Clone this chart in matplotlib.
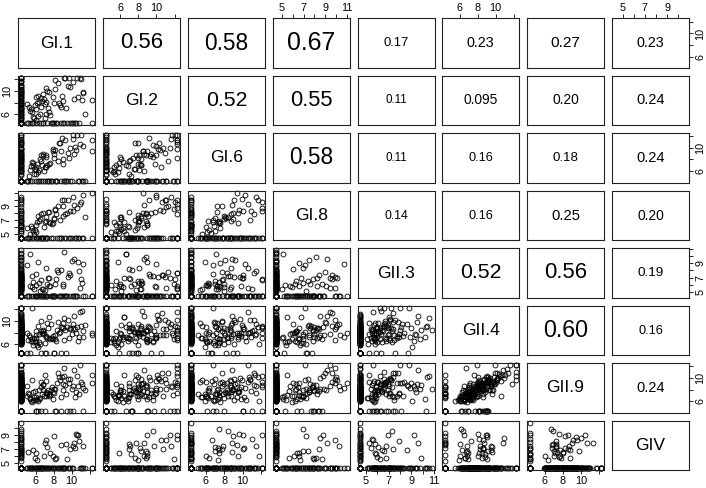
import matplotlib
matplotlib.use("Agg")
import matplotlib.pyplot as plt

plt.rcParams['font.family'] = ['Liberation Sans', 'DejaVu Sans']

# variable names (diagonal labels)
names = ["GI.1", "GI.2", "GI.6", "GI.8", "GII.3", "GII.4", "GII.9", "GIV"]

# log titres per sample; the lowest value in each list is the "not detected" floor
gi1 = (
    [8.2, 9.0, 10.1, 7.5, 8.7, 9.6, 10.6, 11.2, 7.9, 8.5, 9.3, 10.3, 6.8, 11.0, 8.0, 9.8, 12.3, 7.2, 8.9, 10.9]
    + [5.5, 5.8, 6.2, 6.0, 5.3, 6.5, 6.9, 5.6, 7.2, 6.3, 5.9, 6.7, 7.0, 5.4, 6.6, 7.6, 6.1, 7.4, 5.7, 6.4]
    + [5.2, 6.0, 6.8, 7.3, 7.8, 8.4, 8.8, 9.1, 9.5, 10.0, 10.5, 5.6, 6.4, 7.0, 7.7, 8.3, 9.8, 10.8, 11.3, 5.0]
    + [4.4] * 20 + [4.4] * 30 + [4.4] * 20
    + [4.4] * 10 + [6.6] + [4.4] * 19
    + [4.4] * 30
    + [5.1, 5.7, 6.3, 6.8, 7.1, 7.5, 7.9, 8.2, 8.6, 9.0, 9.4, 9.7, 10.2, 10.7, 11.5, 12.3, 5.4, 6.1, 6.6, 7.3,
       8.0, 8.8, 9.2, 10.4, 11.1]
)
gi2 = (
    [10.4, 8.3, 11.6, 9.8, 7.6, 10.9, 12.3, 9.9, 8.9, 11.3, 12.3, 8.6, 9.4, 12.0, 7.9, 10.7, 8.5, 8.1, 9.2, 12.3]
    + [6.8, 5.4, 7.9, 5.0, 7.2, 6.1, 8.6, 6.3, 6.0, 5.7, 7.6, 8.3, 5.3, 6.6, 8.8, 5.9, 6.9, 7.0, 5.5, 8.1]
    + [4.4, 4.4, 4.4, 4.4, 4.4, 4.4, 4.4, 4.4, 4.4, 4.4, 4.4, 4.4, 4.4, 7.7, 4.4, 4.4, 4.4, 4.4, 9.7, 4.4]
    + [6.3, 7.5, 8.8, 9.9, 10.7, 11.5, 5.7, 12.3, 6.8, 8.2, 4.4, 4.4, 4.4, 4.4, 4.4, 4.4, 9.4, 7.2, 4.4, 4.4]
    + [4.4] * 30
    + [5.3, 6.0, 7.0, 7.9, 8.5, 9.2, 10.3, 11.0, 11.8, 6.6, 8.0, 9.6, 10.1, 12.3, 5.0, 4.4, 4.4, 4.4, 4.4, 4.4]
    + [4.4] * 10 + [7.3] + [4.4] * 19
    + [5.2, 6.1, 7.4, 8.3, 9.0, 10.2, 11.1, 12.3, 5.8, 6.9, 7.7, 8.8, 9.6, 10.6, 11.7, 4.4, 4.4, 4.4, 4.4, 4.4,
       6.4, 7.1, 8.0, 9.3, 10.0, 4.4, 4.4, 5.5, 12.3, 4.4]
    + [7.8, 4.4, 9.1, 4.4, 10.5, 6.4, 4.4, 11.9, 8.0, 4.4, 7.0, 12.3, 4.4, 9.0, 6.1, 4.4, 4.4, 8.9, 4.4, 10.0,
       4.4, 7.3, 12.3, 4.4, 8.4]
)
gi6 = (
    [9.6, 8.0, 11.4, 7.2, 10.8, 9.1, 12.1, 10.3, 9.5, 7.8, 11.2, 8.9, 9.0, 12.1, 8.2, 10.0, 9.4, 8.7, 11.7, 10.6]
    + [6.9, 5.6, 7.3, 6.2, 5.2, 8.0, 6.0, 7.6, 8.4, 5.9, 6.4, 7.1, 6.8, 4.4, 8.8, 7.4, 5.5, 4.4, 7.0, 6.3]
    + [4.4, 6.8, 4.4, 7.0, 4.4, 4.4, 9.4, 4.4, 4.4, 4.4, 9.6, 4.4, 4.4, 4.4, 4.4, 4.4, 4.4, 4.4, 4.4, 4.4]
    + [4.4, 6.4, 4.4, 8.7, 4.4, 10.0, 4.4, 11.2, 4.4, 7.3, 6.9, 8.1, 9.1, 10.6, 4.4, 4.4, 4.4, 4.4, 5.6, 12.1]
    + [4.4] * 30
    + [6.0, 4.4, 7.8, 4.4, 9.5, 4.4, 10.8, 4.4, 4.4, 7.1, 4.4, 8.4, 4.4, 9.8, 4.4, 7.6, 8.9, 11.4, 6.2, 9.9]
    + [4.4] * 30
    + [5.9, 4.4, 8.3, 7.0, 4.4, 9.7, 4.4, 11.0, 6.6, 4.4, 8.8, 4.4, 10.4, 4.4, 12.1, 6.1, 7.5, 9.2, 10.9, 8.0,
       4.4, 7.9, 4.4, 8.6, 4.4, 5.4, 11.8, 4.4, 4.4, 6.8]
    + [4.4, 7.4, 4.4, 8.6, 6.7, 4.4, 9.8, 4.4, 10.7, 7.2, 4.4, 8.3, 12.1, 4.4, 4.4, 11.3, 6.3, 4.4, 7.8, 4.4,
       9.0, 4.4, 4.4, 10.1, 4.4]
)
gi8 = (
    [8.5, 7.6, 10.3, 8.2, 7.1, 9.9, 8.8, 10.7, 6.6, 9.0, 7.9, 9.2, 8.0, 9.6, 7.3, 8.4, 11.0, 6.9, 10.0, 9.4]
    + [6.2, 5.0, 6.7, 5.3, 4.4, 7.2, 6.1, 5.9, 7.5, 4.4, 5.6, 4.4, 6.8, 5.1, 7.9, 6.6, 4.4, 8.2, 5.4, 6.9]
    + [4.4, 4.4, 4.4, 4.4, 6.5, 4.4, 4.4, 4.4, 8.0, 4.4, 4.4, 4.4, 4.4, 4.4, 4.4, 7.9, 4.4, 4.4, 4.4, 4.4]
    + [4.4, 4.4, 6.9, 4.4, 4.4, 4.4, 5.5, 4.4, 4.4, 4.4, 4.4, 7.5, 4.4, 4.4, 8.5, 9.4, 4.4, 4.4, 4.4, 4.4]
    + [4.4] * 30
    + [4.4, 6.2, 4.4, 4.4, 8.0, 4.4, 4.4, 9.9, 4.4, 4.4, 6.3, 4.4, 4.4, 4.4, 4.4, 6.6, 4.4, 4.4, 4.4, 10.1]
    + [4.4] * 30
    + [4.4, 5.7, 4.4, 7.4, 6.4, 4.4, 8.9, 4.4, 5.2, 6.0, 4.4, 8.1, 4.4, 9.6, 4.4, 4.4, 6.9, 4.4, 8.4, 4.4,
       5.5, 4.4, 7.8, 4.4, 10.4, 4.4, 4.4, 6.3, 4.4, 7.1]
    + [5.9, 4.4, 7.7, 4.4, 4.4, 6.8, 4.4, 8.7, 4.4, 9.1, 4.4, 4.4, 8.3, 4.4, 7.5, 4.4, 4.4, 6.4, 4.4, 4.4,
       7.2, 4.4, 9.9, 4.4, 4.4]
)
gii3 = (
    [4.5, 6.2, 4.5, 5.8, 4.5, 7.1, 4.5, 8.9, 4.5, 7.8, 4.5, 9.6, 4.5, 6.8, 4.5, 7.4, 4.5, 8.3, 4.5, 5.6]
    + [4.5, 5.4, 4.5, 6.0, 4.5, 5.2, 4.5, 5.7, 4.5, 9.1, 4.5, 5.5, 4.5, 10.2, 4.5, 5.8, 4.5, 6.9, 4.5, 6.3]
    + [4.5, 7.5, 4.5, 6.1, 4.5, 8.0, 4.5, 10.6, 4.5, 9.3, 4.5, 7.2, 4.5, 5.3, 4.5, 6.8, 4.5, 7.9, 4.5, 8.7]
    + [4.5, 6.2, 4.5, 5.7, 4.5, 6.9, 4.5, 7.6, 4.5, 5.4, 4.5, 9.4, 4.5, 8.4, 4.5, 7.0, 4.5, 5.9, 4.5, 6.7]
    + [5.5, 6.0, 4.5, 6.7, 4.5, 7.3, 4.5, 5.8, 4.5, 6.5, 4.5, 7.7, 4.5, 5.1, 4.5, 6.2, 4.5, 8.6, 4.5, 6.4,
       4.5, 7.0, 4.5, 5.3, 4.5, 9.8, 4.5, 6.0, 4.5, 10.4]
    + [4.5, 6.1, 4.5, 6.6, 4.5, 7.5, 4.5, 5.6, 4.5, 10.3, 4.5, 7.3, 4.5, 5.9, 4.5, 9.0, 4.5, 7.9, 4.5, 6.9]
    + [4.5, 4.5, 4.5, 4.5, 4.5, 4.5, 6.3, 7.6, 4.5, 4.5, 4.5, 5.8, 4.5, 6.9, 4.5, 5.7, 4.5, 6.6, 4.5, 10.8,
       4.5, 7.4, 4.5, 6.1, 4.5, 5.6, 4.5, 7.1, 4.5, 8.0]
    + [4.5, 5.9, 4.5, 6.6, 4.5, 7.1, 4.5, 5.5, 4.5, 8.2, 4.5, 9.9, 4.5, 7.4, 4.5, 6.0, 4.5, 9.5, 4.5, 5.7,
       4.5, 6.8, 4.5, 7.2, 4.5, 5.3, 4.5, 6.5, 4.5, 8.8]
    + [4.5, 6.4, 4.5, 5.5, 4.5, 7.0, 4.5, 6.2, 4.5, 5.8, 4.5, 7.7, 4.5, 9.2, 4.5, 4.5, 5.9, 4.5, 6.7, 4.5,
       4.5, 8.1, 4.5, 4.5, 6.3]
)
gii4 = (
    [7.5, 8.8, 9.5, 7.0, 8.1, 10.2, 9.0, 7.2, 6.8, 9.9, 8.4, 10.8, 7.7, 9.2, 4.4, 8.6, 7.9, 7.4, 8.9, 11.6]
    + [6.5, 7.0, 5.9, 6.3, 7.6, 6.0, 8.0, 6.8, 7.2, 5.5, 6.6, 7.9, 6.2, 7.3, 8.3, 6.9, 7.1, 8.7, 5.8, 7.8]
    + [6.7, 7.5, 8.2, 9.6, 7.0, 8.5, 4.4, 10.5, 9.0, 7.7, 8.0, 12.3, 6.4, 4.4, 9.4, 6.6, 8.7, 7.3, 8.3, 4.4]
    + [7.2, 8.1, 6.8, 9.3, 7.6, 8.9, 6.3, 10.1, 7.1, 8.6, 9.8, 7.5, 6.1, 8.0, 10.9, 7.8, 4.4, 8.8, 9.1, 7.0]
    + [6.5, 7.3, 8.5, 9.7, 7.8, 8.2, 10.4, 6.0, 7.0, 8.9, 11.2, 7.4, 9.0, 6.8, 8.0, 12.3, 7.6, 9.5, 6.2, 8.4,
       9.9, 7.1, 8.7, 7.7, 10.0, 6.9, 4.4, 8.8, 7.2, 9.2]
    + [6.6, 7.9, 8.3, 9.4, 7.3, 6.7, 10.2, 8.6, 7.5, 9.0, 8.1, 6.4, 11.0, 8.0, 7.0, 8.8, 9.6, 7.7, 6.3, 9.3]
    + [4.4, 4.4, 4.4, 4.4, 4.4, 4.4, 4.4, 4.4, 6.9, 4.4, 4.4, 6.5, 8.1, 7.5, 9.1, 7.3, 8.6, 12.3, 7.9, 8.5,
       6.4, 9.8, 7.0, 8.3, 10.6, 7.2, 9.4, 6.7, 8.4, 12.3]
    + [6.9, 7.7, 8.6, 9.2, 6.4, 10.3, 7.5, 8.2, 4.4, 9.5, 7.0, 8.5, 6.6, 11.4, 7.9, 8.9, 6.2, 9.9, 7.3, 8.0,
       10.7, 6.8, 4.4, 8.7, 7.6, 9.7, 6.0, 8.3, 7.1, 12.3]
    + [7.9, 6.3, 9.2, 8.4, 4.4, 10.6, 7.4, 6.9, 8.0, 9.7, 4.4, 7.1, 8.8, 6.5, 9.3, 7.6, 4.4, 8.2, 10.0, 7.0,
       4.4, 9.0, 6.7, 8.6, 11.8]
)
gii9 = (
    [8.1, 9.0, 8.7, 7.2, 9.6, 9.9, 10.4, 8.3, 7.7, 10.8, 8.8, 11.3, 8.0, 9.4, 7.5, 4.4, 9.2, 6.9, 10.1, 12.2]
    + [6.0, 6.8, 6.4, 4.4, 7.2, 6.6, 7.0, 5.9, 7.6, 6.1, 7.8, 7.3, 4.4, 6.5, 8.5, 7.1, 6.7, 8.0, 6.3, 7.9]
    + [7.4, 6.2, 8.9, 7.3, 8.4, 9.1, 6.8, 10.3, 4.4, 8.1, 7.6, 9.6, 6.5, 10.6, 8.0, 4.4, 9.8, 7.2, 4.4, 8.6]
    + [7.8, 8.3, 7.0, 9.5, 6.9, 4.4, 7.1, 10.9, 6.6, 8.2, 9.0, 7.7, 6.3, 9.3, 10.0, 8.7, 7.4, 4.4, 9.7, 8.8]
    + [6.2, 7.9, 8.0, 9.2, 6.7, 8.5, 10.7, 6.9, 7.5, 8.1, 11.6, 7.0, 9.4, 6.6, 8.9, 10.4, 7.2, 8.8, 6.0, 7.8,
       12.2, 7.4, 9.0, 4.4, 9.6, 8.2, 8.4, 7.6, 6.4, 10.1]
    + [7.0, 8.0, 8.6, 8.9, 7.8, 6.8, 9.9, 9.1, 7.1, 4.4, 8.2, 6.9, 10.5, 8.4, 7.7, 9.2, 8.0, 7.5, 6.8, 9.7]
    + [4.4, 4.4, 4.4, 4.4, 4.4, 4.4, 4.4, 4.4, 4.4, 7.3, 4.4, 6.1, 8.4, 9.0, 8.7, 7.6, 7.3, 11.0, 12.2, 8.1,
       7.9, 10.2, 6.5, 9.3, 9.5, 6.3, 10.0, 7.4, 8.3, 12.2]
    + [7.3, 8.6, 7.9, 9.8, 6.5, 10.0, 8.2, 4.4, 7.0, 9.1, 7.6, 8.8, 6.2, 10.9, 8.4, 9.4, 6.7, 9.0, 7.8, 4.4,
       10.6, 7.2, 8.5, 9.6, 8.0, 9.3, 6.1, 8.9, 7.4, 12.2]
    + [6.9, 7.7, 4.4, 8.8, 9.5, 7.0, 6.4, 4.4, 10.2, 8.0, 7.3, 9.1, 4.4, 8.6, 7.9, 10.5, 6.6, 4.4, 9.3, 7.5,
       8.2, 4.4, 11.7, 6.8, 9.0]
)
giv = (
    [4.3, 4.3, 7.4, 4.3, 4.3, 4.3, 8.9, 4.3, 6.1, 4.3, 4.3, 7.9, 4.3, 4.3, 4.3, 7.0, 4.3, 4.3, 4.3, 4.3]
    + [4.3, 4.3, 5.5, 4.3, 4.3, 4.3, 6.0, 4.3, 4.3, 4.3, 5.8, 4.3, 4.3, 4.3, 4.3, 6.4, 4.3, 4.3, 4.3, 4.3]
    + [6.6, 4.3, 4.3, 7.3, 4.3, 4.3, 7.6, 4.3, 5.6, 4.3, 9.1, 4.3, 4.3, 7.9, 4.3, 5.8, 4.3, 8.1, 7.5, 4.3]
    + [4.3, 4.3, 6.8, 4.3, 4.3, 9.0, 4.3, 4.3, 4.3, 7.2, 4.3, 4.3, 4.3, 4.3, 8.5, 4.3, 4.3, 6.3, 4.3, 4.3]
    + [4.3, 4.3, 6.4, 4.3, 4.3, 4.3, 4.3, 7.7, 4.3, 4.3, 4.3, 4.3, 8.7, 4.3, 4.3, 4.3, 4.3, 6.9, 4.3, 4.3,
       4.3, 4.3, 7.8, 4.3, 4.3, 4.3, 4.3, 5.9, 4.3, 4.3]
    + [4.3, 4.3, 7.0, 4.3, 4.3, 4.3, 4.3, 8.2, 4.3, 4.3, 4.3, 9.5, 4.3, 4.3, 4.3, 4.3, 6.6, 4.3, 4.3, 4.3]
    + [5.4, 6.2, 7.1, 8.0, 9.2, 10.7] + [4.3] * 24
    + [4.3, 4.3, 4.3, 6.7, 4.3, 4.3, 4.3, 8.4, 4.3, 4.3, 4.3, 5.7, 4.3, 4.3, 4.3, 4.3, 9.8, 4.3, 4.3, 4.3,
       4.3, 7.5, 4.3, 4.3, 4.3, 4.3, 6.0, 4.3, 4.3, 4.3]
    + [4.3, 6.9, 4.3, 4.3, 8.3, 4.3, 4.3, 5.6, 4.3, 4.3, 7.7, 4.3, 4.3, 9.0, 4.3, 4.3, 4.3, 6.5, 4.3, 4.3,
       8.8, 4.3, 4.3, 7.1, 4.3]
)

# correlation labels for the upper panels, row by row
cor_labels = [
    ["0.56", "0.58", "0.67", "0.17", "0.23", "0.27", "0.23"],
    ["0.52", "0.55", "0.11", "0.095", "0.20", "0.24"],
    ["0.58", "0.11", "0.16", "0.18", "0.24"],
    ["0.14", "0.16", "0.25", "0.20"],
    ["0.52", "0.56", "0.19"],
    ["0.60", "0.16"],
    ["0.24"],
]

data = [gi1, gi2, gi6, gi8, gii3, gii4, gii9, giv]
n = len(data)
assert all(len(d) == len(data[0]) for d in data), [len(d) for d in data]

# axis ticks per variable: (tick values, horizontal labels, vertical labels)
T_EVEN = ([6, 8, 10, 12], ["6", "8", "10", ""], ["6", "", "10", ""])
T_ODD = ([5, 6, 7, 8, 9, 10, 11], ["5", "", "7", "", "9", "", "11"], ["5", "", "7", "", "9", "", ""])
T_GIV = ([5, 6, 7, 8, 9, 10], ["5", "", "7", "", "9", ""], ["5", "", "7", "", "9", ""])
ticks = [T_EVEN, T_EVEN, T_EVEN, T_ODD, T_ODD, T_EVEN, T_EVEN, T_GIV]

W, H = 706, 488
fig = plt.figure(figsize=(W / 100, H / 100), dpi=100)

X0, Y0 = 18.3, 18.3      # top-left of first panel (px)
PW, PH = 77.0, 49.4      # panel size (px)
DX, DY = 84.8, 57.5      # panel pitch (px)

lims = []
for d in data:
    lo, hi = min(d), max(d)
    pad = 0.04 * (hi - lo)
    lims.append((lo - pad, hi + pad))

TICK_KW = dict(length=2.6, width=0.6, labelsize=7.8, color='black')

for i in range(n):
    for j in range(n):
        left = X0 + j * DX
        top = Y0 + i * DY
        ax = fig.add_axes([left / W, 1 - (top + PH) / H, PW / W, PH / H])
        ax.set_xlim(*lims[j])
        ax.set_ylim(*lims[i])
        for s in ax.spines.values():
            s.set_linewidth(0.8)
            s.set_color('#222222')

        if i == j:
            ax.text(0.5, 0.5, names[i], transform=ax.transAxes,
                    ha='center', va='center', fontsize=12.6)
        elif j > i:
            txt = cor_labels[i][j - i - 1]
            r = float(txt)
            size = (9 + 23.5 * max(r, 0.2 if len(txt) > 4 else 0.0)) * 0.72
            ax.text(0.5, 0.5, txt, transform=ax.transAxes,
                    ha='center', va='center', fontsize=size)
        else:
            ax.plot(data[j], data[i], 'o', mfc='none', mec='black',
                    ms=3.5, mew=0.6, clip_on=False)

        # ticks alternate round the outside of the matrix, like R's pairs()
        ax.set_xticks([])
        ax.set_yticks([])
        if i == 0 and j % 2 == 1:
            tv, hl, vl = ticks[j]
            ax.set_xticks(tv, hl)
            ax.xaxis.tick_top()
            ax.tick_params(axis='x', pad=1.5, **TICK_KW)
        if i == n - 1 and j % 2 == 0:
            tv, hl, vl = ticks[j]
            ax.set_xticks(tv, hl)
            ax.tick_params(axis='x', pad=1.8, **TICK_KW)
        if j == 0 and i % 2 == 1:
            tv, hl, vl = ticks[i]
            ax.set_yticks(tv, vl, rotation=90, va='center')
            ax.tick_params(axis='y', pad=2.0, **TICK_KW)
        if j == n - 1 and i % 2 == 0:
            tv, hl, vl = ticks[i]
            ax.set_yticks(tv, vl, rotation=90, va='center')
            ax.yaxis.tick_right()
            ax.tick_params(axis='y', pad=2.0, **TICK_KW)

fig.savefig("out.png", dpi=100)
